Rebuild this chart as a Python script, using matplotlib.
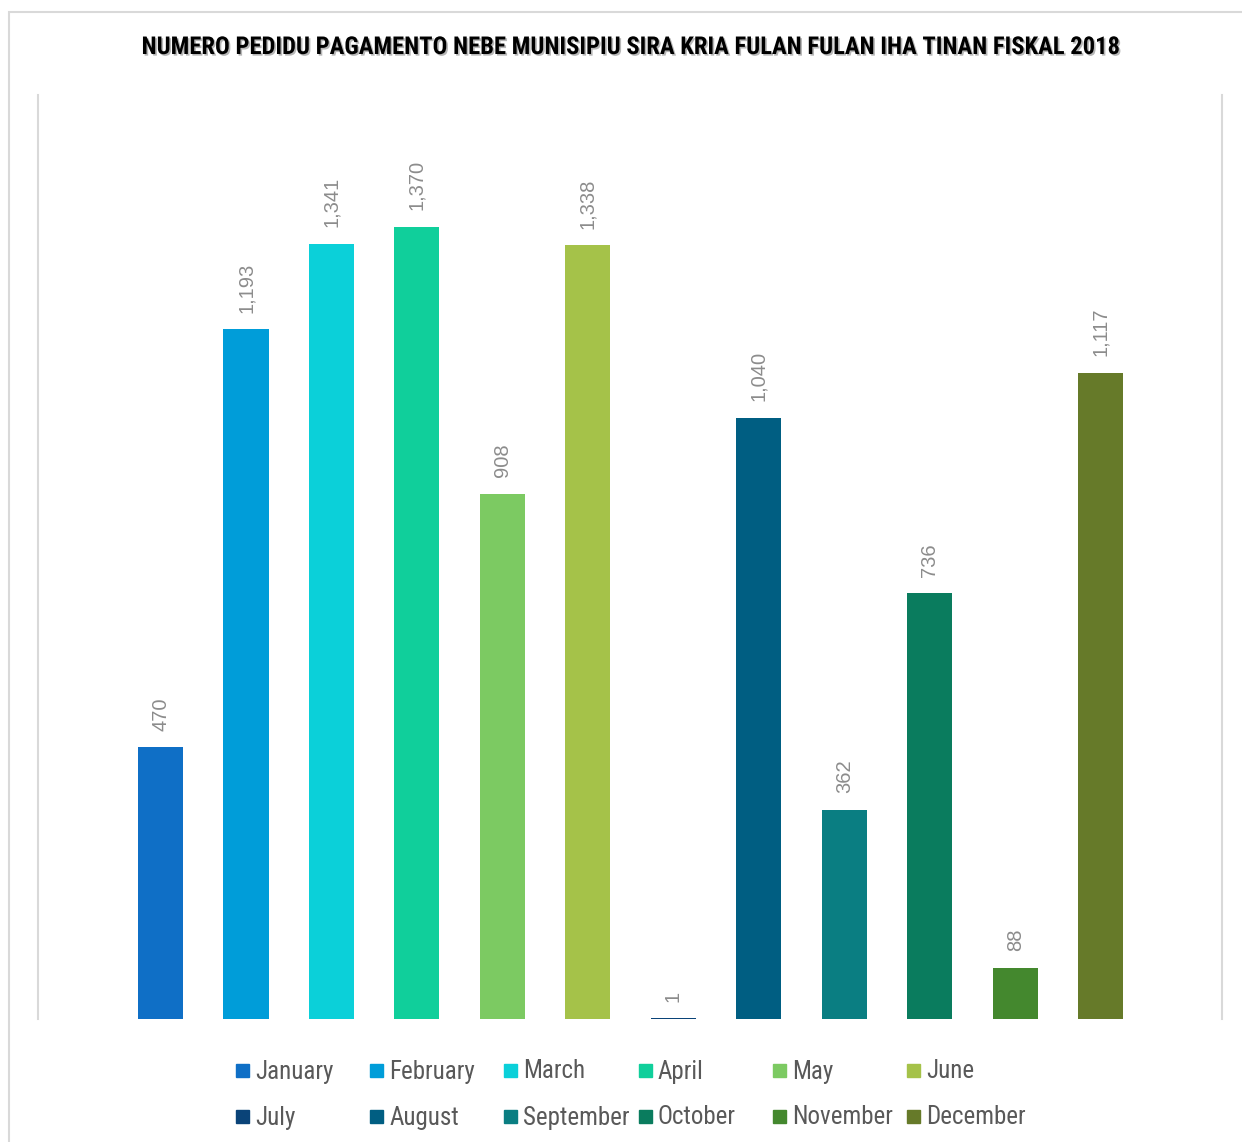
import matplotlib
matplotlib.use("Agg")
import matplotlib.pyplot as plt
from matplotlib import font_manager
from matplotlib.patches import Rectangle
import matplotlib.patheffects as pe

months = ["January", "February", "March", "April", "May", "June",
          "July", "August", "September", "October", "November", "December"]
pedidu = [470, 1193, 1341, 1370, 908, 1338, 1, 1040, 362, 736, 88, 1117]
colors = ["#0F6FC6", "#009DD9", "#0BD0D9", "#10CF9B", "#7CCA62", "#A5C249",
          "#0A4378", "#005E82", "#0A7E82", "#0A7C5E", "#44882E", "#667A29"]
title = "NUMERO PEDIDU PAGAMENTO NEBE MUNISIPIU SIRA KRIA FULAN FULAN IHA TINAN FISKAL 2018"

installed = set(f.name for f in font_manager.fontManager.ttflist)

def pick(*names):
    for n in names:
        if n in installed:
            return n
    return "DejaVu Sans"

narrow = pick("Liberation Sans Narrow", "DejaVu Sans Condensed", "Roboto Condensed", "Open Sans Condensed", "Liberation Sans")
label_font = pick("Liberation Sans", "Arial", "DejaVu Sans")

W, H = 1242, 1142
fig = plt.figure(figsize=(W / 100, H / 100), dpi=100)

# outer chart border (cropped on right/bottom)
fig.add_artist(Rectangle((9 / W, -0.1), 1.2, 1 - 12 / H + 0.1, transform=fig.transFigure,
                         fill=False, edgecolor="#D9D9D9", lw=1.5))

ax = fig.add_axes([38 / W, 1 - 1019 / H, (1222 - 38) / W, (1019 - 95) / H])
x = list(range(len(months)))
bars = ax.bar(x, pedidu, width=0.527, color=colors)
ax.set_xlim(-1.434, 12.42)
ax.set_ylim(0, 1598)
ax.set_xticks([])
ax.set_yticks([])
for s in ["top", "bottom"]:
    ax.spines[s].set_visible(False)
for s in ["left", "right"]:
    ax.spines[s].set_color("#D9D9D9")
    ax.spines[s].set_linewidth(1.5)

for xi, v in zip(x, pedidu):
    ax.annotate(f"{v:,}", (xi, v), xytext=(0, 12), textcoords="offset points",
                rotation=90, ha="center", va="bottom", fontsize=14.5,
                color="#8C8C8C", family=label_font)

fig.text(630 / W, 1 - 47 / H, title, ha="center", va="center", fontsize=17.7,
         fontweight="bold", family=narrow, color="black",
         path_effects=[pe.withSimplePatchShadow(offset=(1.2, -1.2), shadow_rgbFace="#888888", alpha=0.6)])

# legend: two rows, six equal-width columns
for i, (m, c) in enumerate(zip(months, colors)):
    row, col = divmod(i, 6)
    lx = 236 + col * 134.2
    ly = 1070 + row * 46
    fig.add_artist(Rectangle((lx / W, 1 - (ly + 6.5) / H), 13 / W, 13 / H,
                             transform=fig.transFigure, color=c))
    fig.text((lx + 19) / W, 1 - (ly - 1) / H, m, ha="left", va="center_baseline",
             fontsize=18, color="#595959", family=narrow)

fig.savefig("out.png", dpi=100)
